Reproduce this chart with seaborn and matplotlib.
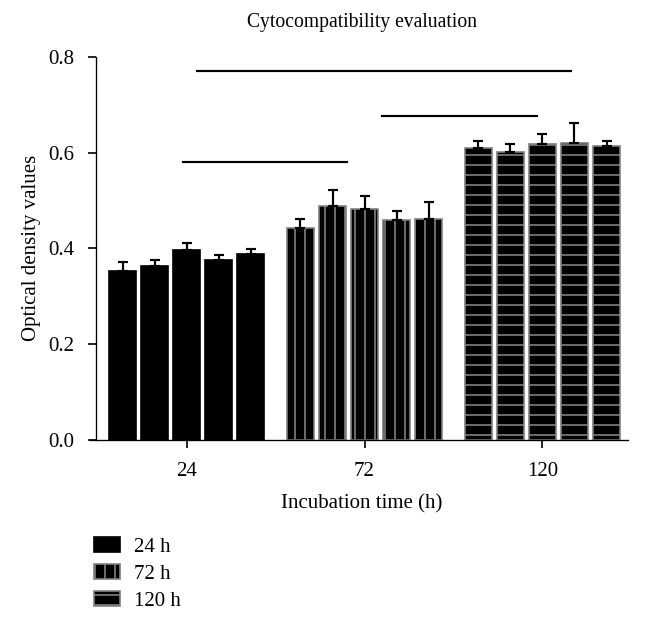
import numpy as np
import pandas as pd
import matplotlib
matplotlib.use('Agg')
import matplotlib.pyplot as plt
from matplotlib.patches import Patch
import seaborn as sns

# data
times = ['24', '72', '120']
samples = ['S1', 'S2', 'S3', 'S4', 'S5']
od_24 = [0.352, 0.364, 0.396, 0.376, 0.388]
od_72 = [0.442, 0.489, 0.482, 0.460, 0.461]
od_120 = [0.609, 0.601, 0.617, 0.621, 0.614]
err_24 = [0.019, 0.011, 0.015, 0.010, 0.010]
err_72 = [0.020, 0.033, 0.028, 0.019, 0.035]
err_120 = [0.016, 0.017, 0.021, 0.041, 0.011]

# significance lines: (start, end, height) in category units
sig_start = [0.06, 1.10, -0.02]
sig_end = [2.16, 1.97, 0.90]
sig_height = [0.771, 0.677, 0.580]

legend_labels = ['24 h', '72 h', '120 h']
hatches = ['', '||', '--']
edges = ['black', '#808080', '#808080']

df = pd.DataFrame({
    'time': np.repeat(times, len(samples)),
    'sample': samples * len(times),
    'od': od_24 + od_72 + od_120,
    'err': err_24 + err_72 + err_120,
})

plt.rcParams['font.family'] = ['Liberation Serif', 'DejaVu Serif']
plt.rcParams['hatch.linewidth'] = 1.0

fig, ax = plt.subplots(figsize=(652 / 120, 624 / 120), dpi=120)
fig.subplots_adjust(left=0.147, right=0.963, top=0.909, bottom=0.295)

sns.barplot(data=df, x='time', y='od', hue='sample', order=times,
            hue_order=samples, errorbar=None, width=0.9, gap=0.15,
            palette=['black'] * 5, saturation=1, legend=False, ax=ax)

# style bars per time group, add one-sided error bars
for container, s in zip(ax.containers, samples):
    for i, bar in enumerate(container):
        bar.set_hatch(hatches[i])
        bar.set_edgecolor(edges[i])
        bar.set_linewidth(1.0)
        row = df[(df['time'] == times[i]) & (df['sample'] == s)].iloc[0]
        xc = bar.get_x() + bar.get_width() / 2
        ax.errorbar(xc, row['od'], yerr=[[0], [row['err']]], color='black',
                    capsize=2.8, elinewidth=1.3, capthick=1.3, zorder=1)

for x0, x1, h in zip(sig_start, sig_end, sig_height):
    ax.plot([x0, x1], [h, h], color='black', lw=1.3)

ax.set_xlim(-0.51, 2.48)
ax.set_ylim(0, 0.8)
ax.set_yticks([0.0, 0.2, 0.4, 0.6, 0.8])
ax.set_yticklabels(['0.0', '0.2', '0.4', '0.6', '0.8'])
ax.spines['top'].set_visible(False)
ax.spines['right'].set_visible(False)
ax.spines['bottom'].set_bounds(-0.545, 2.48)
ax.tick_params(labelsize=12.5, length=5, width=1, pad=8)
ax.set_xlabel('Incubation time (h)', fontsize=12.5, labelpad=8)
ax.set_ylabel('Optical density values', fontsize=12.5, labelpad=4)
ax.set_title('Cytocompatibility evaluation', fontsize=11.8, pad=18)

handles = [Patch(facecolor='black', edgecolor=e, hatch=h, label=l)
           for e, h, l in zip(edges, hatches, legend_labels)]
fig.legend(handles=handles, loc='upper left', bbox_to_anchor=(0.132, 0.152),
           frameon=False, fontsize=12.5, handlelength=1.25, handleheight=0.7,
           labelspacing=0.35, handletextpad=0.65, borderaxespad=0)

fig.savefig('out.png', dpi=120)
